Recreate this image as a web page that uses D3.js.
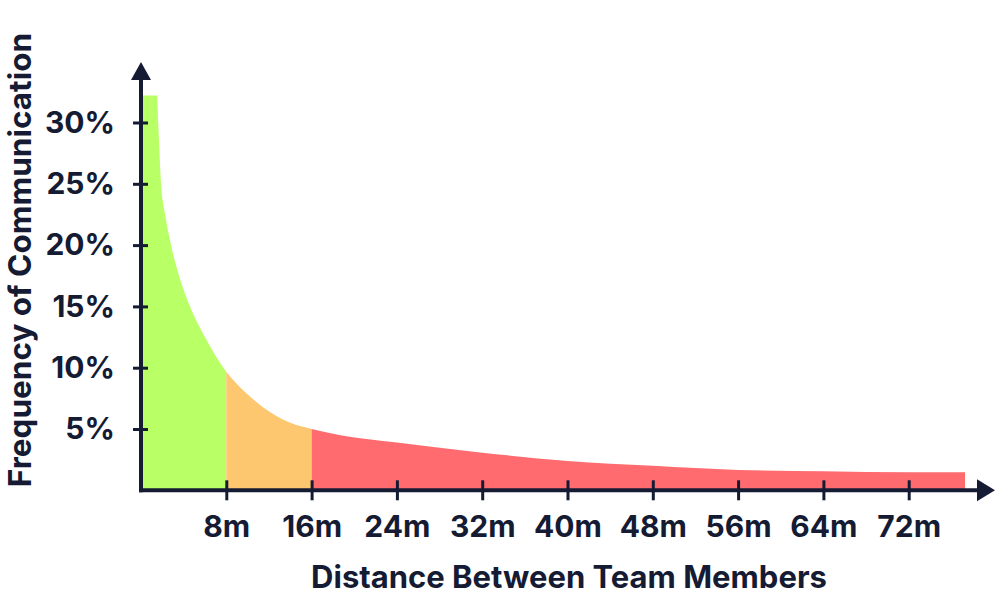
<!DOCTYPE html>
<html>
<head>
<meta charset="utf-8">
<script src="https://cdn.jsdelivr.net/npm/d3@7"></script>
<style>
  html, body { margin: 0; padding: 0; background: #ffffff; }
  svg { display: block; }
  text { font-family: Inter, "Noto Sans", sans-serif; font-weight: 700; fill: #151b33; }
</style>
</head>
<body>
<svg id="chart" width="1000" height="601"></svg>
<script>
// Data
const distance  = [0, 1.5, 1.62, 1.75, 1.88, 2.25, 2.79, 3.5, 4.6, 6.0, 8, 9.9, 11.4, 14, 16, 18.7, 24, 32, 40, 48, 56, 64, 72, 77.3];
const frequency = [32.2, 32.2, 29.9, 27.2, 25.0, 22.6, 20.1, 17.7, 15.0, 12.5, 9.67, 7.9, 6.8, 5.5, 5.0, 4.5, 3.9, 3.07, 2.4, 2.0, 1.66, 1.55, 1.47, 1.47];
const zoneBreaks = [0, 8, 16, 77.3];
const zoneNames = ["close", "medium", "far"];
const xTickValues = [8, 16, 24, 32, 40, 48, 56, 64, 72];
const yTickValues = [5, 10, 15, 20, 25, 30];
const xTitle = "Distance Between Team Members";
const yTitle = "Frequency of Communication";

const zoneColors = ["#b9ff66", "#fdc76f", "#ff6b6f"];
const ink = "#151b33";

const svg = d3.select("#chart");
const x = d3.scaleLinear().domain([0, 80]).range([141, 994]);
const y = d3.scaleLinear().domain([0, 35]).range([490.3, 61.2]);

const points = distance.map((d, i) => ({ d, f: frequency[i] }));
const area = d3.area()
  .x(p => x(p.d))
  .y0(y(0))
  .y1(p => y(p.f))
  .curve(d3.curveMonotoneX);

const defs = svg.append("defs");
zoneNames.forEach((name, i) => {
  defs.append("clipPath").attr("id", "clip-" + name)
    .append("rect")
    .attr("x", x(zoneBreaks[i]))
    .attr("y", 0)
    .attr("width", x(zoneBreaks[i + 1]) - x(zoneBreaks[i]))
    .attr("height", 601);
});

zoneNames.forEach((name, i) => {
  svg.append("path")
    .datum(points)
    .attr("d", area)
    .attr("fill", zoneColors[i])
    .attr("clip-path", "url(#clip-" + name + ")");
});

// Y axis
const yAxis = d3.axisLeft(y).tickValues(yTickValues).tickFormat(d => d + "%").tickSize(8).tickPadding(18);
const gy = svg.append("g").attr("transform", `translate(${x(0)},0)`).call(yAxis);
gy.select(".domain").remove();
gy.selectAll(".tick line").attr("x1", 7).attr("stroke", ink).attr("stroke-width", 3);
gy.selectAll(".tick text").attr("font-size", 30).attr("fill", ink).style("font-family", "Inter, sans-serif").style("font-weight", 700);

// X axis
const xAxis = d3.axisBottom(x).tickValues(xTickValues).tickFormat(d => d + "m").tickSize(10).tickPadding(15);
const gx = svg.append("g").attr("transform", `translate(0,${y(0)})`).call(xAxis);
gx.select(".domain").remove();
gx.selectAll(".tick line").attr("y1", -10).attr("stroke", ink).attr("stroke-width", 3);
gx.selectAll(".tick text").attr("font-size", 30).attr("fill", ink).style("font-family", "Inter, sans-serif").style("font-weight", 700);

// Axis lines with arrows
svg.append("line")
  .attr("x1", x(0)).attr("x2", x(0))
  .attr("y1", y(0) + 2).attr("y2", 78)
  .attr("stroke", ink).attr("stroke-width", 4);
svg.append("path")
  .attr("d", `M${x(0)},62 L${x(0) - 10},80 L${x(0) + 10},80 Z`)
  .attr("fill", ink);
svg.append("line")
  .attr("x1", x(0) - 2).attr("x2", 979)
  .attr("y1", y(0)).attr("y2", y(0))
  .attr("stroke", ink).attr("stroke-width", 4);
svg.append("path")
  .attr("d", `M995,${y(0)} L977,${y(0) - 11} L977,${y(0) + 11} Z`)
  .attr("fill", ink);

// Titles
svg.append("text")
  .attr("x", 569).attr("y", 588)
  .attr("text-anchor", "middle")
  .attr("font-size", 31)
  .text(xTitle);
svg.append("text")
  .attr("transform", "translate(31,260) rotate(-90)")
  .attr("text-anchor", "middle")
  .attr("font-size", 31.5)
  .text(yTitle);
</script>
</body>
</html>
